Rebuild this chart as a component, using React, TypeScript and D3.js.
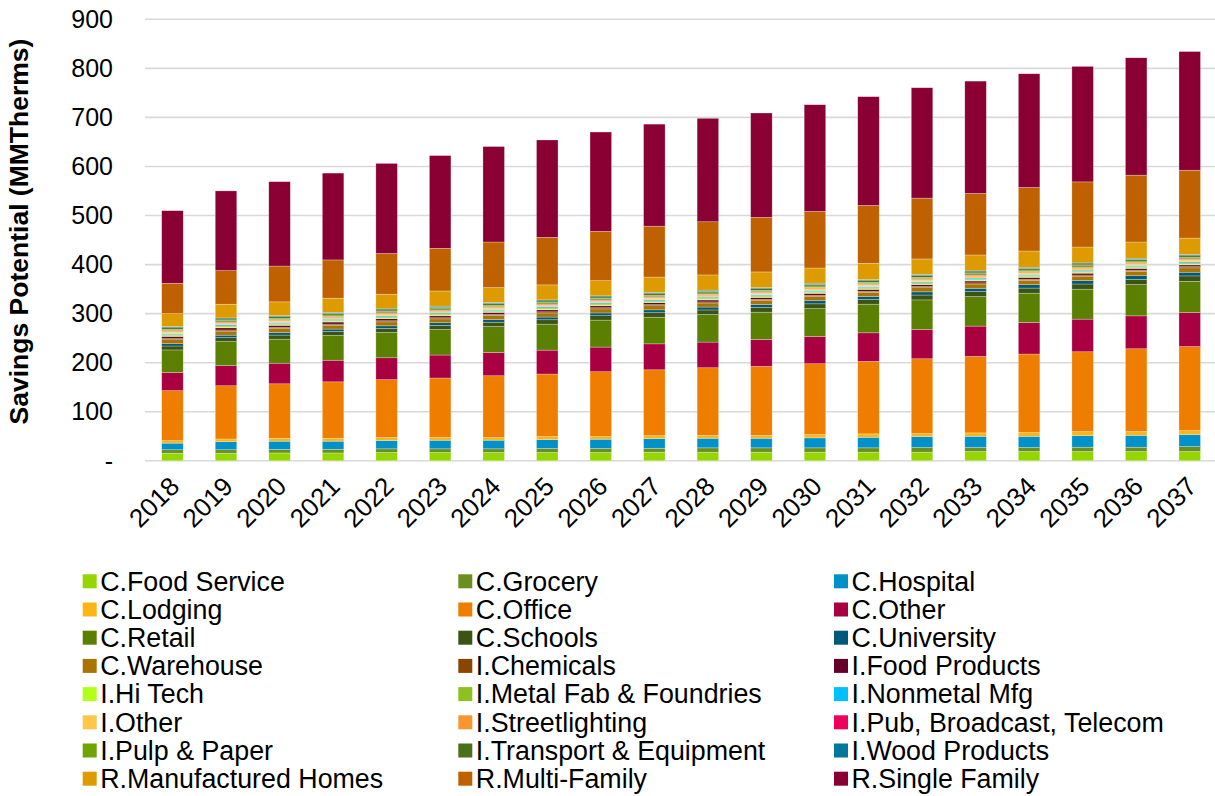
import React from "react";
import * as d3 from "d3";

const years = ["2018","2019","2020","2021","2022","2023","2024","2025","2026","2027","2028","2029","2030","2031","2032","2033","2034","2035","2036","2037"];
const yTicks = [0, 100, 200, 300, 400, 500, 600, 700, 800, 900];

const cFoodService = [15.5,15.5,16,16,17,17,17,17,17,17.6,17.6,17.6,17.6,17.6,17.6,18.9,18.9,18.9,18.9,18.9];
const cGrocery = [7,7,7,7.5,7.4,7.4,7.4,8,8,8,8.8,8.8,8.8,8.8,9.4,8.1,8.1,8.8,8.8,10];
const cHospital = [13.5,16.5,17,16.5,17,17.5,17.6,18.3,19,19.7,19.6,19.6,20.4,21.6,22.4,23,23,23.8,24.3,24.5];
const cLodging = [5,5.5,6,6,6,5.5,5.4,6,5.4,6,5.5,5.5,6.7,6.9,6.1,6.9,7.6,8.1,7.6,8.1];
const cOffice = [102,108.5,111,115,118,121.4,126,127.6,132.2,134.2,138.2,140.9,144.4,147.7,152.5,155.8,160,162.7,168.8,171.4];
const cOther = [37,41,42,44,44.6,46.8,47.4,48.7,50.2,52.9,52.3,54.9,55.5,58.3,59.6,61.9,64.3,66.5,67.1,69.2];
const cRetail = [46,49,49,50.5,51.6,52.1,53,53,55,54.3,56.2,55.7,56.9,58.4,60.4,60.2,59.8,61,63.7,63.8];
const cSchools = [8,8.2,8.3,8.1,8.4,8.5,8.7,8.9,9,9.2,9.3,9.4,9.7,9.6,9.9,10.2,10.4,10.6,10.8,11];
const cUniversity = [4.7,4.9,5,4.9,5.1,5.2,5.4,5.5,5.6,5.8,5.9,6,6.3,6.2,6.5,6.7,6.9,7.1,7.3,7.5];
const cWarehouse = [8.2,8.3,8.3,8,8.2,8,8.3,8.4,8.3,8.4,8.3,8.4,8.7,8.3,8.6,8.7,8.8,8.9,8.9,9];
const iChemicals = [2.2,2.3,2.2,2.2,2.2,2.2,2.2,2.3,2.3,2.3,2.2,2.2,2.3,2.2,2.3,2.3,2.3,2.3,2.3,2.3];
const iFoodProducts = [4.5,4.4,4.3,4.2,4.2,4,4.1,4.1,4,4,3.9,3.9,4,3.8,3.8,3.8,3.8,3.8,3.7,3.7];
const iHiTech = [1.5,1.5,1.5,1.4,1.5,1.4,1.5,1.5,1.5,1.5,1.5,1.5,1.6,1.5,1.5,1.5,1.6,1.6,1.6,1.6];
const iMetalFab = [2.2,2.2,2.2,2.2,2.2,2.2,2.2,2.2,2.2,2.2,2.2,2.2,2.3,2.2,2.3,2.3,2.3,2.3,2.3,2.3];
const iNonmetal = [2.2,2.3,2.2,2.2,2.2,2.2,2.3,2.3,2.3,2.3,2.2,2.2,2.3,2.2,2.2,2.2,2.2,2.3,2.3,2.3];
const iOther = [2.6,2.6,2.6,2.5,2.6,2.5,2.6,2.6,2.6,2.6,2.6,2.6,2.7,2.6,2.7,2.7,2.7,2.7,2.7,2.7];
const iStreetlighting = [2.2,2.2,2.2,2.2,2.2,2.2,2.2,2.2,2.2,2.2,2.2,2.2,2.3,2.2,2.3,2.3,2.3,2.3,2.2,2.2];
const iPub = [1.1,1.1,1.1,1.1,1.1,1.1,1.1,1.1,1.1,1.1,1.1,1.1,1.1,1.1,1.1,1.1,1.1,1.1,1.1,1.1];
const iPulp = [2.8,2.9,2.8,2.8,2.8,2.8,2.9,2.9,2.9,2.9,2.8,2.8,2.9,2.8,2.9,2.9,2.9,2.9,2.9,2.9];
const iTransport = [3,3.1,3.1,3,3.1,3,3.1,3.2,3.2,3.3,3.2,3.3,3.3,3.1,3.2,3.3,3.3,3.4,3.4,3.4];
const iWood = [2.2,2.2,2.2,2.2,2.2,2.2,2.2,2.2,2.2,2.2,2.2,2.2,2.2,2.2,2.2,2.2,2.2,2.2,2.2,2.2];
const rManufactured = [26.5,28,28,29,30,31,30.4,30.6,31,31.9,31.1,32,31,33.4,32,32.6,33.2,32.5,33.1,33.9];
const rMultiFamily = [62,68.5,73,78,83,87,93,97,100.5,103.7,108.4,111.2,115.3,117.9,124,125.4,129.5,132.8,136.3,138.3];
const rSingleFamily = [148,162.5,172,177,183.6,189,194.6,198.4,202.5,208,210.9,212.8,217.6,221.7,225,229,231.8,235.4,239.3,242];

const seriesNames = [
  "C.Food Service","C.Grocery","C.Hospital","C.Lodging","C.Office","C.Other",
  "C.Retail","C.Schools","C.University","C.Warehouse","I.Chemicals","I.Food Products",
  "I.Hi Tech","I.Metal Fab & Foundries","I.Nonmetal Mfg","I.Other","I.Streetlighting","I.Pub, Broadcast, Telecom",
  "I.Pulp & Paper","I.Transport & Equipment","I.Wood Products","R.Manufactured Homes","R.Multi-Family","R.Single Family"
];
const seriesValues = [
  cFoodService,cGrocery,cHospital,cLodging,cOffice,cOther,
  cRetail,cSchools,cUniversity,cWarehouse,iChemicals,iFoodProducts,
  iHiTech,iMetalFab,iNonmetal,iOther,iStreetlighting,iPub,
  iPulp,iTransport,iWood,rManufactured,rMultiFamily,rSingleFamily
];
const seriesColors = [
  "#95d600","#6a8f1f","#0091c8","#fdb515","#ef7d00","#a90041",
  "#5b7f00","#3b5315","#00587a","#a87500","#8b4500","#64002a",
  "#b4ff1a","#8cc21f","#00c0ff","#ffc747","#f99631","#ee005f",
  "#70a400","#4b6f1b","#00779e","#dd9b00","#bf6100","#8a0033"
];

const W = 1215, H = 796;
const FONT = "Arial, 'Liberation Sans', sans-serif";

export default function App() {
  const rows = years.map((yr, i) => {
    const r: any = { year: yr };
    seriesNames.forEach((n, k) => { r[n] = seriesValues[k][i]; });
    return r;
  });
  const stacked = d3.stack<any>().keys(seriesNames)(rows);

  const x = d3.scaleBand<string>().domain(years).range([145.7, 1216.5]).paddingInner(0.598).paddingOuter(0.299);
  const y = d3.scaleLinear().domain([0, 900]).range([460.8, 19.3]);

  const legCols = [82.7, 458.3, 834];
  const legRow0 = 581.3, legStep = 28.2;

  return (
    <svg width={W} height={H} style={{ position: "absolute", left: 0, top: 0, display: "block", background: "#fff" }} fontFamily={FONT}>
      <rect x={0} y={0} width={W} height={H} fill="#fff" />
      {yTicks.map(t => (
        <line key={"g" + t} x1={145} x2={W} y1={y(t)} y2={y(t)} stroke="#d9d9d9" strokeWidth={1.6} />
      ))}
      {yTicks.map(t => (
        <text key={"yt" + t} x={113} y={y(t)} dy="0.35em" textAnchor="end" fontSize={25} fill="#000">
          {t === 0 ? "-" : String(t)}
        </text>
      ))}
      <text transform={`translate(28,231.5) rotate(-90)`} textAnchor="middle" fontSize={26.5} fontWeight="bold" fill="#000">
        Savings Potential (MMTherms)
      </text>
      {stacked.map((s, k) => (
        <g key={"s" + k} fill={seriesColors[k]}>
          {s.map((d, i) => (
            <rect key={i} x={x(years[i])!} width={x.bandwidth()} y={y(d[1])} height={Math.max(0, y(d[0]) - y(d[1]))}
              stroke="#ffffff" strokeOpacity={0.45} strokeWidth={0.6} />
          ))}
        </g>
      ))}
      {years.map(yr => {
        const cx = x(yr)! + x.bandwidth() / 2;
        return (
          <text key={"xt" + yr} transform={`translate(${cx + 8.5},488) rotate(-45)`} textAnchor="end" fontSize={26} fill="#000">
            {yr}
          </text>
        );
      })}
      {seriesNames.map((n, k) => {
        const col = k % 3, row = Math.floor(k / 3);
        const lx = legCols[col], ly = legRow0 + row * legStep;
        return (
          <g key={"l" + k}>
            <rect x={lx} y={ly - 7} width={14} height={14} fill={seriesColors[k]} />
            <text x={lx + 17.5} y={ly} dy="0.35em" fontSize={26.8} fill="#000">{n}</text>
          </g>
        );
      })}
    </svg>
  );
}
